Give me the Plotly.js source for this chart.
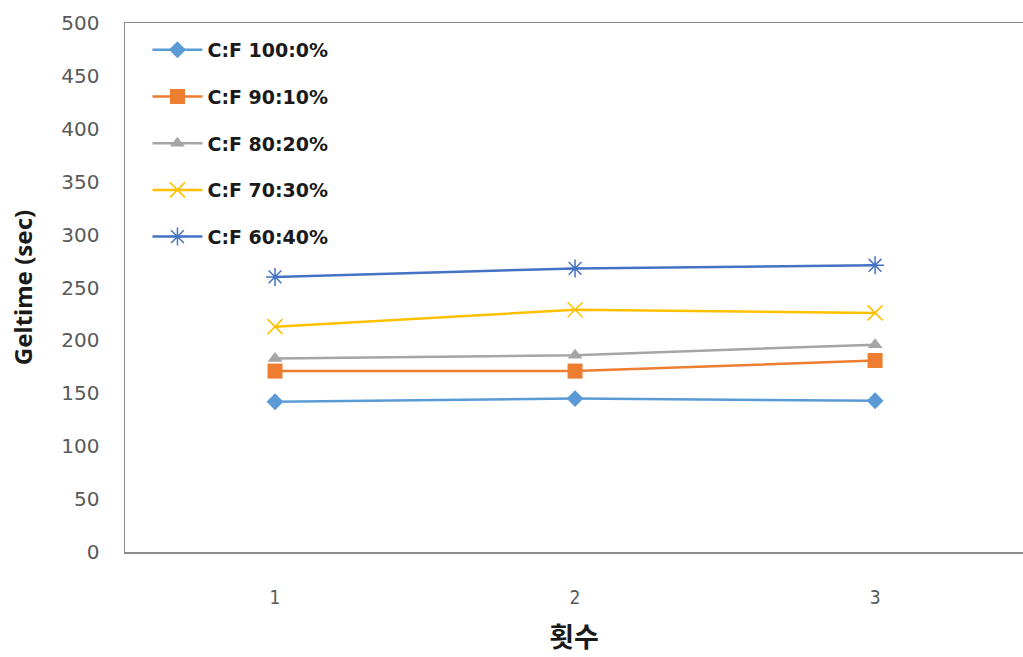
<!DOCTYPE html>
<html>
<head>
<meta charset="utf-8">
<script src="https://cdn.plot.ly/plotly-3.0.1.min.js"></script>
<style>
  html, body { margin: 0; padding: 0; background: #ffffff; }
  #chart { width: 1023px; height: 657px; }
</style>
</head>
<body>
<div id="chart"></div>
<script>
// Trial number (category axis)
const trials = [1, 2, 3];

// Gel time (sec) per mixing ratio
const seriesNames = ["C:F 100:0%", "C:F 90:10%", "C:F 80:20%", "C:F 70:30%", "C:F 60:40%"];
const cf100_0 = [142, 145, 143];
const cf90_10 = [171, 171, 181];
const cf80_20 = [183, 186, 196];
const cf70_30 = [213, 229, 226];
const cf60_40 = [260, 268, 271];

const yTickValues = [0, 50, 100, 150, 200, 250, 300, 350, 400, 450, 500];

const seriesValues = [cf100_0, cf90_10, cf80_20, cf70_30, cf60_40];
const colors = ["#5B9BD5", "#ED7D31", "#A5A5A5", "#FFC000", "#4472C4"];
const symbols = ["diamond", "square", "triangle-up", "x-thin-open", "asterisk-open"];
const sizes = [13, 15, 13, 15, 15];

const traces = seriesValues.map((vals, i) => ({
  x: trials,
  y: vals,
  name: seriesNames[i],
  legendgroup: "g" + i,
  type: "scatter",
  mode: "lines+markers",
  line: { color: colors[i], width: 2.5 },
  marker: {
    symbol: symbols[i],
    size: sizes[i],
    color: colors[i],
    line: { color: colors[i], width: (i >= 3 ? 1.5 : 0) }
  }
}));

const layout = {
  width: 1023,
  height: 657,
  margin: { l: 125, r: 0, t: 23, b: 105 },
  paper_bgcolor: "#ffffff",
  plot_bgcolor: "#ffffff",
  font: { family: "'DejaVu Sans', sans-serif", color: "#595959" },
  showlegend: true,
  legend: {
    x: 0.025,
    y: 0.985,
    xanchor: "left",
    yanchor: "top",
    bgcolor: "rgba(255,255,255,0)",
    font: { family: "'DejaVu Sans', sans-serif", size: 19, color: "#1a1a1a", weight: "bold" },
    tracegroupgap: 19,
    itemwidth: 50
  },
  xaxis: {
    type: "linear",
    range: [0.5, 3.493],
    tickvals: trials,
    ticktext: trials.map(String),
    showgrid: false,
    zeroline: false,
    showline: true,
    mirror: true,
    linecolor: "#8c8c8c",
    linewidth: 1.5,
    ticks: "",
    ticklabelstandoff: 28,
    tickfont: { size: 19, color: "#595959", family: "'Liberation Sans Narrow', 'DejaVu Sans Condensed', sans-serif" },
    title: {
      text: "횟수",
      font: { family: "'Noto Sans CJK KR', sans-serif", size: 27, color: "#1a1a1a", weight: "bold" },
      standoff: 21
    }
  },
  yaxis: {
    range: [0, 500],
    tickvals: yTickValues,
    showgrid: false,
    zeroline: false,
    showline: true,
    mirror: false,
    linecolor: "#8c8c8c",
    linewidth: 1.5,
    ticks: "",
    ticklabelstandoff: 20,
    tickfont: { size: 20, color: "#595959", family: "'DejaVu Sans', sans-serif" },
    title: {
      text: "Geltime (sec)",
      font: { family: "'Noto Sans', 'Open Sans', sans-serif", size: 24, color: "#1a1a1a", weight: "bold" },
      standoff: 22
    }
  }
};

Plotly.newPlot("chart", traces, layout, { staticPlot: true, displayModeBar: false });
</script>
</body>
</html>
